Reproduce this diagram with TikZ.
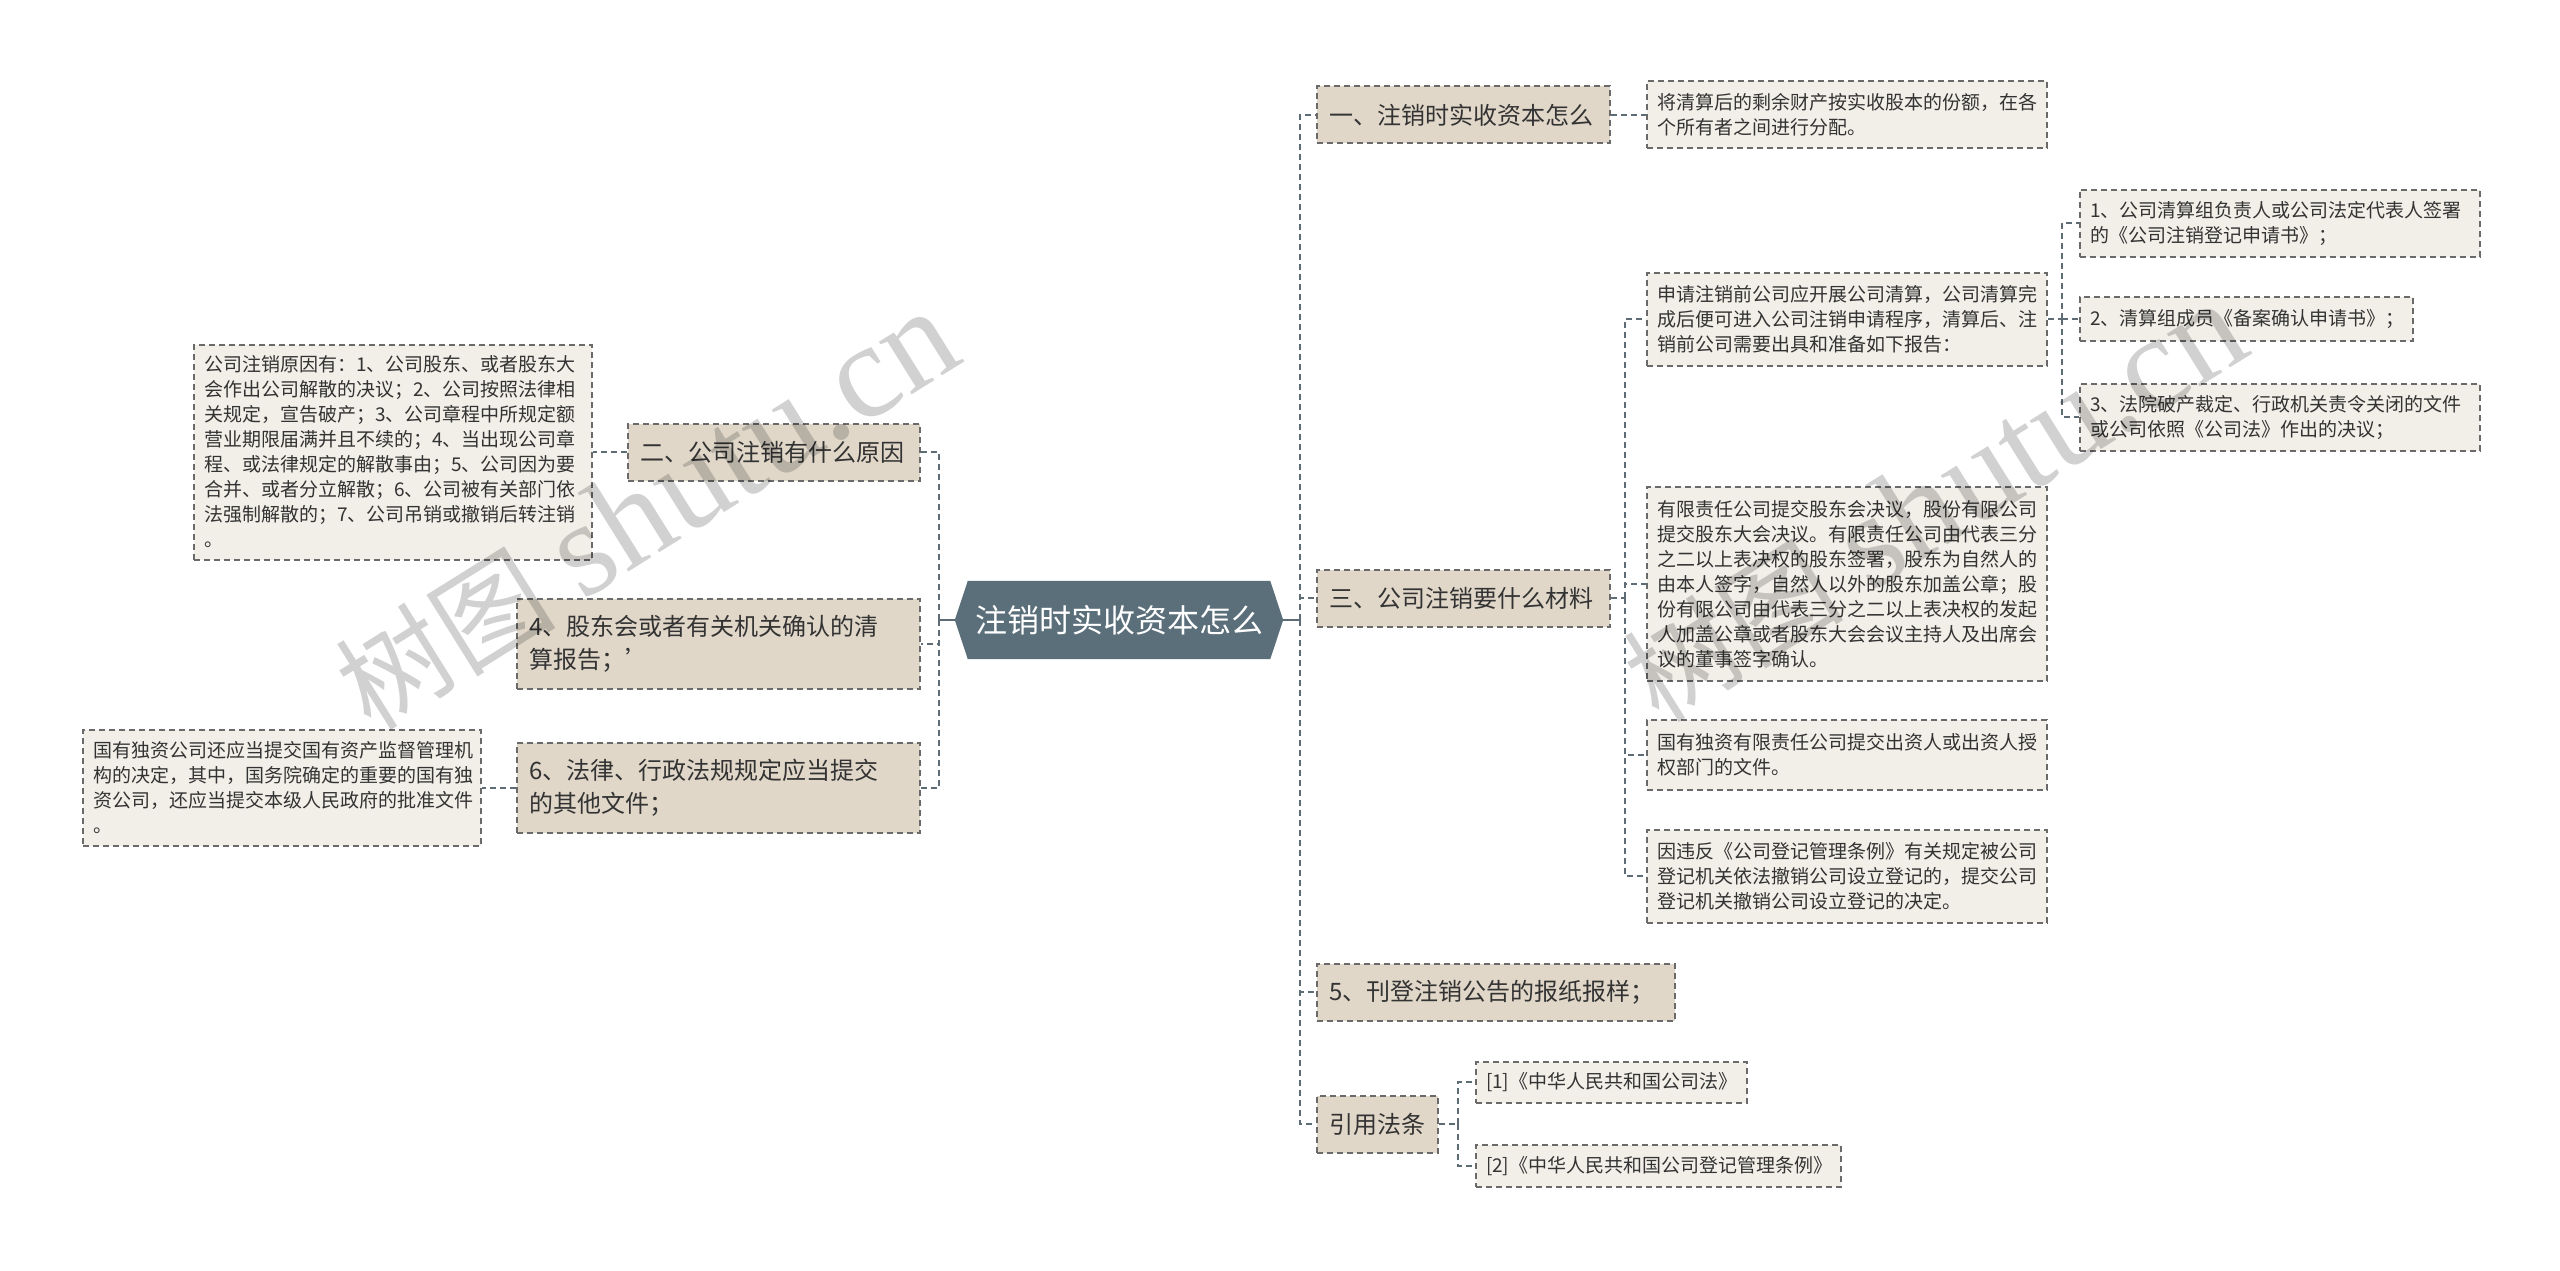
\documentclass[tikz,border=0pt]{standalone}
\usepackage{fontspec}
\setmainfont{Noto Sans CJK SC}
\newfontfamily\wmserif{Liberation Serif}
\usetikzlibrary{backgrounds}
\definecolor{cRoot}{HTML}{5B6F7B}
\definecolor{cLone}{HTML}{E0D7C9}
\definecolor{cLtwo}{HTML}{F2EFE8}
\definecolor{cBorder}{HTML}{6A6A6A}
\definecolor{cConn}{HTML}{5E6C75}
\definecolor{cText}{HTML}{333333}
\tikzset{
  box/.style={draw=cBorder, line width=2pt, dash pattern=on 6pt off 4pt,
    anchor=west, align=left, inner ysep=0pt, text=cText},
  lone/.style={box, fill=cLone, inner xsep=12pt, font=\fontsize{24}{33}\selectfont},
  ltwo/.style={box, fill=cLtwo, inner xsep=10pt, font=\fontsize{19}{25}\selectfont},
  conn/.style={draw=cConn, line width=2.5pt, dash pattern=on 6pt off 4pt},
  rootconn/.style={draw=cConn, line width=2.5pt},
  wm/.style={rotate=32, opacity=0.18, text=black, inner sep=0pt}
}
\begin{document}
\begin{tikzpicture}[x=1pt,y=-1pt]
\useasboundingbox (0,0) rectangle (2560,1271);

% root
\node[font=\fontsize{32}{40}\selectfont, text=white, minimum width=302pt,
      minimum height=78pt, inner sep=0pt] (root) at (1119,620) {注销时实收资本怎么};
\begin{scope}[on background layer]
  \fill[white] (0,0) rectangle (2560,1271);
  \fill[cRoot] ([xshift=-13pt]root.west) -- (root.north west) -- (root.north east)
     -- ([xshift=13pt]root.east) -- (root.south east) -- (root.south west) -- cycle;
\end{scope}

% right level 1
\node[lone, text width=269pt, minimum height=57pt] (n1) at (1316,115) {一、注销时实收资本怎么};
\node[lone, text width=269pt, minimum height=57pt] (n3) at (1316,598) {三、公司注销要什么材料};
\node[lone, text width=334pt, minimum height=57pt] (n5) at (1316,992) {5、刊登注销公告的报纸报样；};
\node[lone, text width=97pt, minimum height=57pt] (nr) at (1316,1124) {引用法条};

% right level 2
\node[ltwo, text width=380pt, minimum height=67pt] (n1a) at (1646,115)
  {将清算后的剩余财产按实收股本的份额，在各\\个所有者之间进行分配。};
\node[ltwo, text width=380pt, minimum height=93pt] (a) at (1646,319)
  {申请注销前公司应开展公司清算，公司清算完\\成后便可进入公司注销申请程序，清算后、注\\销前公司需要出具和准备如下报告：};
\node[ltwo, text width=380pt, minimum height=194pt] (b) at (1646,584)
  {有限责任公司提交股东会决议，股份有限公司\\提交股东大会决议。有限责任公司由代表三分\\之二以上表决权的股东签署，股东为自然人的\\由本人签字，自然人以外的股东加盖公章；股\\份有限公司由代表三分之二以上表决权的发起\\人加盖公章或者股东大会会议主持人及出席会\\议的董事签字确认。};
\node[ltwo, text width=380pt, minimum height=70pt] (c) at (1646,755)
  {国有独资有限责任公司提交出资人或出资人授\\权部门的文件。};
\node[ltwo, text width=380pt, minimum height=93pt] (d) at (1646,876)
  {因违反《公司登记管理条例》有关规定被公司\\登记机关依法撤销公司设立登记的，提交公司\\登记机关撤销公司设立登记的决定。};

% right level 3
\node[ltwo, text width=380pt, minimum height=67pt] (a1) at (2079,223)
  {1、公司清算组负责人或公司法定代表人签署\\的《公司注销登记申请书》；};
\node[ltwo, text width=313pt, minimum height=44pt] (a2) at (2079,319)
  {2、清算组成员《备案确认申请书》；};
\node[ltwo, text width=380pt, minimum height=67pt] (a3) at (2079,417)
  {3、法院破产裁定、行政机关责令关闭的文件\\或公司依照《公司法》作出的决议；};

\node[ltwo, text width=251pt, minimum height=41pt] (r1) at (1475,1082) {[1]《中华人民共和国公司法》};
\node[ltwo, text width=345pt, minimum height=42pt] (r2) at (1475,1166) {[2]《中华人民共和国公司登记管理条例》};

% left side
\node[lone, text width=268pt, minimum height=57pt] (l2) at (627,452) {二、公司注销有什么原因};
\node[ltwo, text width=378pt, minimum height=215pt] (l2a) at (193,452)
  {公司注销原因有：1、公司股东、或者股东大\\会作出公司解散的决议；2、公司按照法律相\\关规定，宣告破产；3、公司章程中所规定额\\营业期限届满并且不续的；4、当出现公司章\\程、或法律规定的解散事由；5、公司因为要\\合并、或者分立解散；6、公司被有关部门依\\法强制解散的；7、公司吊销或撤销后转注销\\。};
\node[lone, text width=379pt, minimum height=90pt] (l4) at (516,644)
  {4、股东会或者有关机关确认的清\\算报告；’};
\node[lone, text width=379pt, minimum height=90pt] (l6) at (516,788)
  {6、法律、行政法规规定应当提交\\的其他文件；};
\node[ltwo, text width=378pt, minimum height=116pt] (l6a) at (82,788)
  {国有独资公司还应当提交国有资产监督管理机\\构的决定，其中，国务院确定的重要的国有独\\资公司，还应当提交本级人民政府的批准文件\\。};

% connectors
\coordinate (tR) at (1300,620);
\coordinate (tL) at (939,620);
\draw[rootconn] ([xshift=13pt]root.east) -- (tR);
\draw[rootconn] ([xshift=-13pt]root.west) -- (tL);
\foreach \n in {n1,n3,n5,nr} \draw[conn] (tR) |- (\n.west);
\foreach \n in {l2,l4,l6} \draw[conn] (tL) |- (\n.east);
\draw[conn] (n1.east) -- (n1a.west);
\coordinate (t3) at (1625,598);
\draw[conn] (n3.east) -- (t3);
\foreach \n in {a,b,c,d} \draw[conn] (t3) |- (\n.west);
\coordinate (tA) at (2062,319);
\draw[conn] (a.east) -- (tA);
\foreach \n in {a1,a2,a3} \draw[conn] (tA) |- (\n.west);
\coordinate (tRef) at (1458,1124);
\draw[conn] (nr.east) -- (tRef);
\foreach \n in {r1,r2} \draw[conn] (tRef) |- (\n.west);
\draw[conn] (l2.west) -- (l2a.east);
\draw[conn] (l6.west) -- (l6a.east);

% watermarks
\node[wm] (wm1) at (647,511) {{\fontsize{110}{110}\selectfont 树图}\hspace{28pt}{\wmserif\fontsize{135}{135}\selectfont shutu.cn}};
\node[wm] (wm2) at (1935,503) {{\fontsize{110}{110}\selectfont 树图}\hspace{28pt}{\wmserif\fontsize{135}{135}\selectfont shutu.cn}};
\end{tikzpicture}
\end{document}
